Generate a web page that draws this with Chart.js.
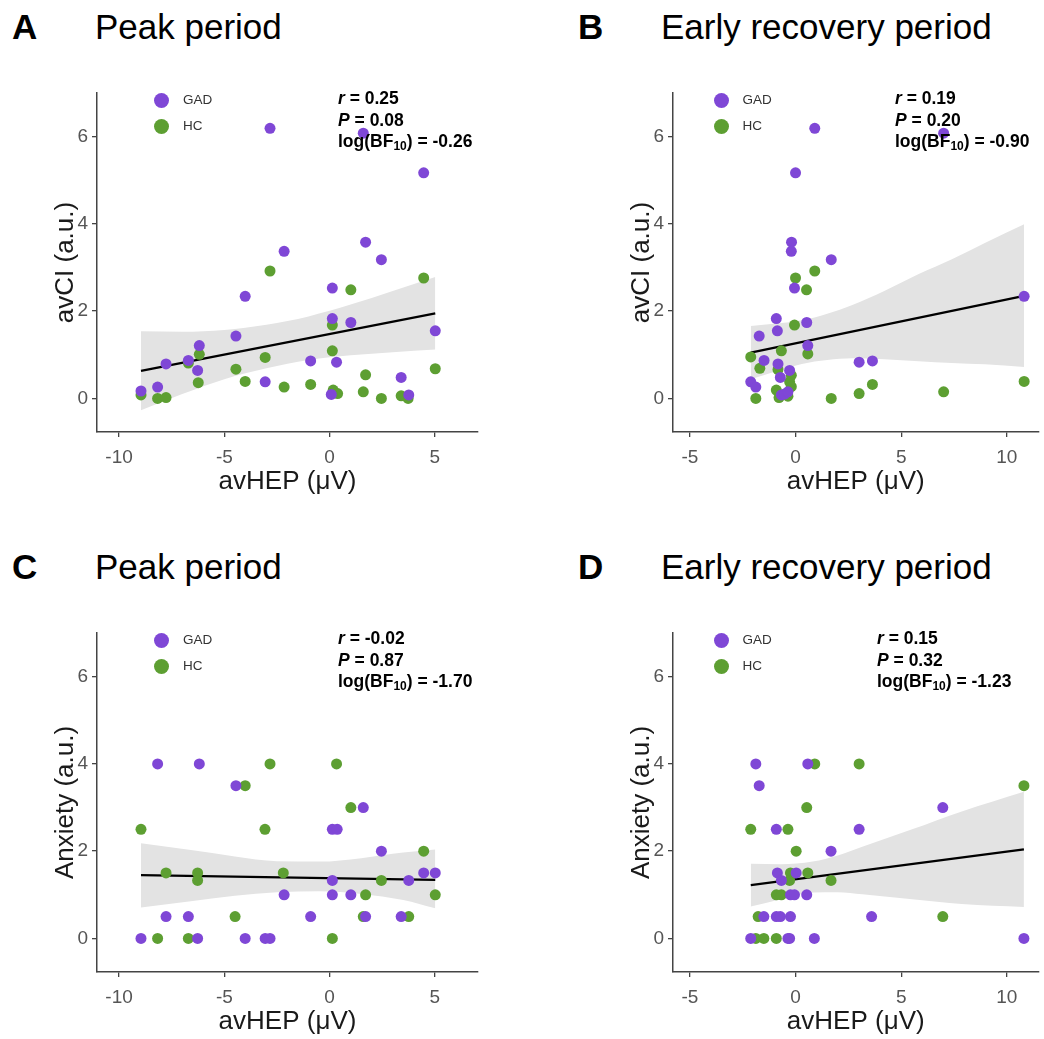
<!DOCTYPE html>
<html>
<head>
<meta charset="utf-8">
<script src="https://cdn.jsdelivr.net/npm/chart.js@4.4.1/dist/chart.umd.min.js"></script>
<style>
  html, body { margin:0; padding:0; background:#fff; }
  body { width:1044px; height:1039px; position:relative; overflow:hidden; font-family:"Liberation Sans", Arial, sans-serif; }
  canvas { position:absolute; }
  .lbl { position:absolute; white-space:nowrap; color:#000; }
  .letter { font-size:35px; font-weight:bold; line-height:35px; }
  .ptitle { font-size:35px; line-height:35px; }
  .leg { position:absolute; font-size:13.5px; color:#333; line-height:14px; }
  .dot { position:absolute; width:15px; height:15px; border-radius:50%; }
  .stat { position:absolute; font-size:17.5px; font-weight:bold; line-height:21.5px; white-space:nowrap; color:#000; }
  .stat sub { font-size:12px; vertical-align:-3px; line-height:0; }
</style>
</head>
<body>
<script>
// ---------------- DATA ----------------
const yTicks = [0, 2, 4, 6];
const xTicksPeak = [-10, -5, 0, 5];
const xTicksEarly = [-5, 0, 5, 10];
const groups = ["GAD", "HC"];

// Panel A: Peak period, avCI vs avHEP
const aGadX = [-8.96,-8.17,-7.77,-6.71,-6.19,-6.27,-4.45,-4.01,-3.06,-2.83,-2.16,-0.90,0.13,0.13,0.33,0.08,1.01,1.60,1.71,2.46,3.40,3.76,4.47,5.02];
const aGadY = [0.17,0.26,0.79,0.87,1.21,0.64,1.43,2.34,0.38,6.19,3.37,0.86,2.53,1.83,0.83,0.09,1.74,6.08,3.58,3.18,0.48,0.08,5.17,1.55];
const aHcX = [-8.96,-8.17,-7.77,-6.71,-6.19,-6.24,-4.45,-4.01,-3.06,-2.83,-2.16,-0.90,0.13,0.13,0.17,0.38,1.01,1.60,1.71,2.46,3.40,3.73,4.47,5.02];
const aHcY = [0.08,0,0.02,0.81,1.01,0.36,0.67,0.39,0.94,2.92,0.26,0.32,1.68,1.09,0.19,0.11,2.49,0.15,0.54,0,0.06,0,2.76,0.68];
const aFitX = [-8.96, 5.02];
const aFitY = [0.63, 1.95];
const aBandX = [-8.96,-7,-5,-3,-1,1,3,5.02];
const aBandLo = [-0.27,0.10,0.44,0.69,0.88,0.99,1.06,1.12];
const aBandHi = [1.54,1.53,1.57,1.69,1.88,2.15,2.46,2.78];

// Panel B: Early recovery period, avCI vs avHEP
const bGadX = [-2.12,-1.88,-1.72,-1.49,-0.91,-0.86,-0.83,-0.72,-0.67,-0.52,-0.36,-0.28,-0.19,-0.20,-0.05,0,0.53,0.58,0.91,1.69,3.01,3.64,7.01,10.82];
const bGadY = [0.38,0.26,1.43,0.87,1.83,1.55,0.79,0.48,0.08,0.10,0.15,0.64,3.58,3.37,2.53,5.17,1.74,1.21,6.19,3.18,0.83,0.86,6.08,2.34];
const bHcX = [-2.12,-1.88,-1.69,-0.91,-0.83,-0.78,-0.67,-0.36,-0.28,-0.20,-0.20,-0.05,0,0.52,0.58,0.91,1.69,3.01,3.64,7.01,10.82];
const bHcY = [0.95,0,0.69,0.19,0.66,0.02,1.09,0.05,0.38,0.53,0.27,1.68,2.76,2.49,1.02,2.92,0,0.11,0.32,0.15,0.39];
const bFitX = [-2.12, 10.82];
const bFitY = [1.05, 2.35];
const bBandX = [-2.12,0.3,1.5,2.69,4.2,5.83,7.4,8.96,10.82];
const bBandLo = [0.44,0.79,0.88,0.92,0.90,0.85,0.81,0.78,0.72];
const bBandHi = [1.66,1.79,1.94,2.14,2.46,2.85,3.19,3.56,3.99];

// Panel C: Peak period, Anxiety vs avHEP
const cGadX = [-8.96,-8.17,-7.77,-6.71,-6.27,-6.19,-4.45,-4.01,-3.06,-2.83,-2.16,-0.90,0.13,0.13,0.13,0.36,1.01,1.60,1.71,2.46,3.40,3.76,4.47,5.02];
const cGadY = [0,4,0.5,0.5,0,4,3.5,0,0,0,1,0.5,1.33,1,2.5,2.5,1,3,0.5,2,0.5,1.33,1.5,1.5];
const cHcX = [-8.96,-8.17,-7.77,-6.71,-6.27,-6.27,-4.49,-4.01,-3.07,-2.83,-2.2,0.13,0.33,1.01,1.60,1.71,2.46,3.76,4.47,5.02];
const cHcY = [2.5,0,1.5,0,1.5,1.33,0.5,3.5,2.5,4,1.5,0,4,3,0.5,1,1.33,0.5,2,1];
const cFitX = [-8.96, 5.02];
const cFitY = [1.45, 1.34];
const cBandX = [-8.96,-6.5,-4.5,-2.5,-0.5,1.5,3.5,5.02];
const cBandLo = [0.71,0.86,0.98,1.06,1.08,1.02,0.88,0.69];
const cBandHi = [2.18,2.02,1.88,1.77,1.76,1.84,1.97,2.04];

// Panel D: Early recovery period, Anxiety vs avHEP
const dGadX = [-1.88,0.58,-1.72,6.97,-0.91,3.01,1.68,-0.86,0.03,-0.67,-0.24,-0.05,0.53,-1.50,-0.91,-0.72,-0.24,3.6,-2.12,-0.36,-0.28,0.89,10.81];
const dGadY = [4,4,3.5,3,2.5,2.5,2,1.5,1.5,1.33,1,1,1,0.5,0.5,0.5,0.5,0.5,0,0,0,0,0];
const dHcX = [0.91,3.01,10.81,0.53,-2.12,-0.36,0.03,-0.24,0.58,-0.28,1.68,-0.91,-0.67,-1.77,6.97,-1.88,-1.50,-0.91];
const dHcY = [4,4,3.5,3,2.5,2.5,2,1.5,1.5,1.33,1.33,1,1,0.5,0.5,0,0,0];
const dFitX = [-2.12, 10.81];
const dFitY = [1.22, 2.04];
const dBandX = [-2.12,-0.7,0.81,2.0,3.16,5.52,7.87,10.81];
const dBandLo = [0.73,0.90,1.05,1.06,1.01,0.90,0.79,0.72];
const dBandHi = [1.71,1.70,1.76,1.90,2.10,2.50,2.91,3.36];

const panelLetters = ["A", "B", "C", "D"];
const panelTitles = ["Peak period", "Early recovery period", "Peak period", "Early recovery period"];
const yTitles = ["avCI (a.u.)", "avCI (a.u.)", "Anxiety (a.u.)", "Anxiety (a.u.)"];
const xTitle = "avHEP (\u03BCV)";
const statR = ["0.25", "0.19", "-0.02", "0.15"];
const statP = ["0.08", "0.20", "0.87", "0.32"];
const statBF = ["-0.26", "-0.90", "-1.70", "-1.23"];

// ---------------- STYLE / LAYOUT ----------------
const PURPLE = "#7f47d6";
const GREEN = "#5d9f32";
const FONT = "'Liberation Sans', Arial, sans-serif";

const zip = (xs, ys) => xs.map((x, i) => ({x: x, y: ys[i]}));

const panels = [
  {gx:aGadX, gy:aGadY, hx:aHcX, hy:aHcY, fx:aFitX, fy:aFitY, bx:aBandX, blo:aBandLo, bhi:aBandHi, xt:xTicksPeak, xmin:-11.05, xmax:7.05,
   left:0, top:73, width:490, padRight:12, letterX:12, titleX:95, legX:154, statX:338, baseY:0},
  {gx:bGadX, gy:bGadY, hx:bHcX, hy:bHcY, fx:bFitX, fy:bFitY, bx:bBandX, blo:bBandLo, bhi:bBandHi, xt:xTicksEarly, xmin:-5.8, xmax:11.5,
   left:576, top:73, width:468, padRight:2, letterX:578, titleX:661, legX:713.5, statX:895, baseY:0},
  {gx:cGadX, gy:cGadY, hx:cHcX, hy:cHcY, fx:cFitX, fy:cFitY, bx:cBandX, blo:cBandLo, bhi:cBandHi, xt:xTicksPeak, xmin:-11.05, xmax:7.05,
   left:0, top:613, width:490, padRight:12, letterX:12, titleX:95, legX:154, statX:338, baseY:540},
  {gx:dGadX, gy:dGadY, hx:dHcX, hy:dHcY, fx:dFitX, fy:dFitY, bx:dBandX, blo:dBandLo, bhi:dBandHi, xt:xTicksEarly, xmin:-5.8, xmax:11.5,
   left:576, top:613, width:468, padRight:2, letterX:578, titleX:661, legX:713.5, statX:877, baseY:540}
];

function addDiv(cls, html, left, top, extra) {
  const d = document.createElement('div');
  d.className = cls;
  d.innerHTML = html;
  d.style.left = left + 'px';
  d.style.top = top + 'px';
  if (extra) Object.assign(d.style, extra);
  document.body.appendChild(d);
  return d;
}

panels.forEach((p, i) => {
  const cv = document.createElement('canvas');
  const H = 432;
  cv.width = p.width; cv.height = H;
  cv.style.left = p.left + 'px'; cv.style.top = p.top + 'px';
  cv.style.width = p.width + 'px'; cv.style.height = H + 'px';
  document.body.appendChild(cv);

  new Chart(cv.getContext('2d'), {
    type: 'scatter',
    data: {
      datasets: [
        {label: groups[0], data: zip(p.gx, p.gy), backgroundColor: PURPLE, pointRadius: 5.5, pointBorderWidth: 0, pointHoverRadius: 5.5},
        {label: groups[1], data: zip(p.hx, p.hy), backgroundColor: GREEN, pointRadius: 5.5, pointBorderWidth: 0, pointHoverRadius: 5.5},
        {type: 'line', label: 'fit', data: zip(p.fx, p.fy), borderColor: '#000', borderWidth: 2.2, pointRadius: 0, fill: false, tension: 0},
        {type: 'line', label: 'ciLo', data: zip(p.bx, p.blo), borderWidth: 0, borderColor: 'rgba(0,0,0,0)', pointRadius: 0, fill: false, tension: 0.4, cubicInterpolationMode: 'monotone'},
        {type: 'line', label: 'ciHi', data: zip(p.bx, p.bhi), borderWidth: 0, borderColor: 'rgba(0,0,0,0)', pointRadius: 0, fill: '-1', backgroundColor: '#e3e3e3', tension: 0.4, cubicInterpolationMode: 'monotone'}
      ]
    },
    options: {
      responsive: false,
      animation: false,
      devicePixelRatio: 1,
      events: [],
      layout: {padding: {left: 0, right: p.padRight, top: 20, bottom: 0}},
      plugins: {legend: {display: false}, tooltip: {enabled: false}},
      scales: {
        x: {
          type: 'linear', min: p.xmin, max: p.xmax,
          afterBuildTicks: s => { s.ticks = p.xt.map(v => ({value: v})); },
          afterFit: s => { s.height = 73; },
          grid: {display: true, drawOnChartArea: false, drawTicks: true, tickLength: 5, color: '#444', lineWidth: 1.3},
          border: {display: true, color: '#444', width: 1.5},
          ticks: {color: '#555', font: {family: FONT, size: 19}, padding: 9, maxRotation: 0, autoSkip: false},
          title: {display: true, text: xTitle, color: '#1a1a1a', font: {family: FONT, size: 26}, padding: {top: 0, bottom: 8}}
        },
        y: {
          type: 'linear', min: -0.77, max: 7.0,
          afterBuildTicks: s => { s.ticks = yTicks.map(v => ({value: v})); },
          afterFit: s => { s.width = 97; },
          grid: {display: true, drawOnChartArea: false, drawTicks: true, tickLength: 5, color: '#444', lineWidth: 1.3},
          border: {display: true, color: '#444', width: 1.5},
          ticks: {color: '#555', font: {family: FONT, size: 19}, padding: 4, autoSkip: false},
          title: {display: true, text: yTitles[i], color: '#1a1a1a', font: {family: FONT, size: 26}, padding: {top: 50, bottom: 0}}
        }
      }
    }
  });

  // Panel letter and title
  addDiv('lbl letter', panelLetters[i], p.letterX, 8.7 + p.baseY);
  addDiv('lbl ptitle', panelTitles[i], p.titleX, 8.7 + p.baseY);

  // Legend
  const legY1 = 100 + p.baseY, legY2 = 126 + p.baseY;
  addDiv('dot', '', p.legX, legY1 - 7.5, {background: PURPLE});
  addDiv('dot', '', p.legX, legY2 - 7.5, {background: GREEN});
  addDiv('leg', groups[0], p.legX + 29, legY1 - 7);
  addDiv('leg', groups[1], p.legX + 29, legY2 - 7);

  // Statistics
  addDiv('stat', '<i>r</i> = ' + statR[i] + '<br><i>P</i> = ' + statP[i] + '<br>log(BF<sub>10</sub>) = ' + statBF[i], p.statX, 88 + p.baseY);
});
</script>
</body>
</html>
